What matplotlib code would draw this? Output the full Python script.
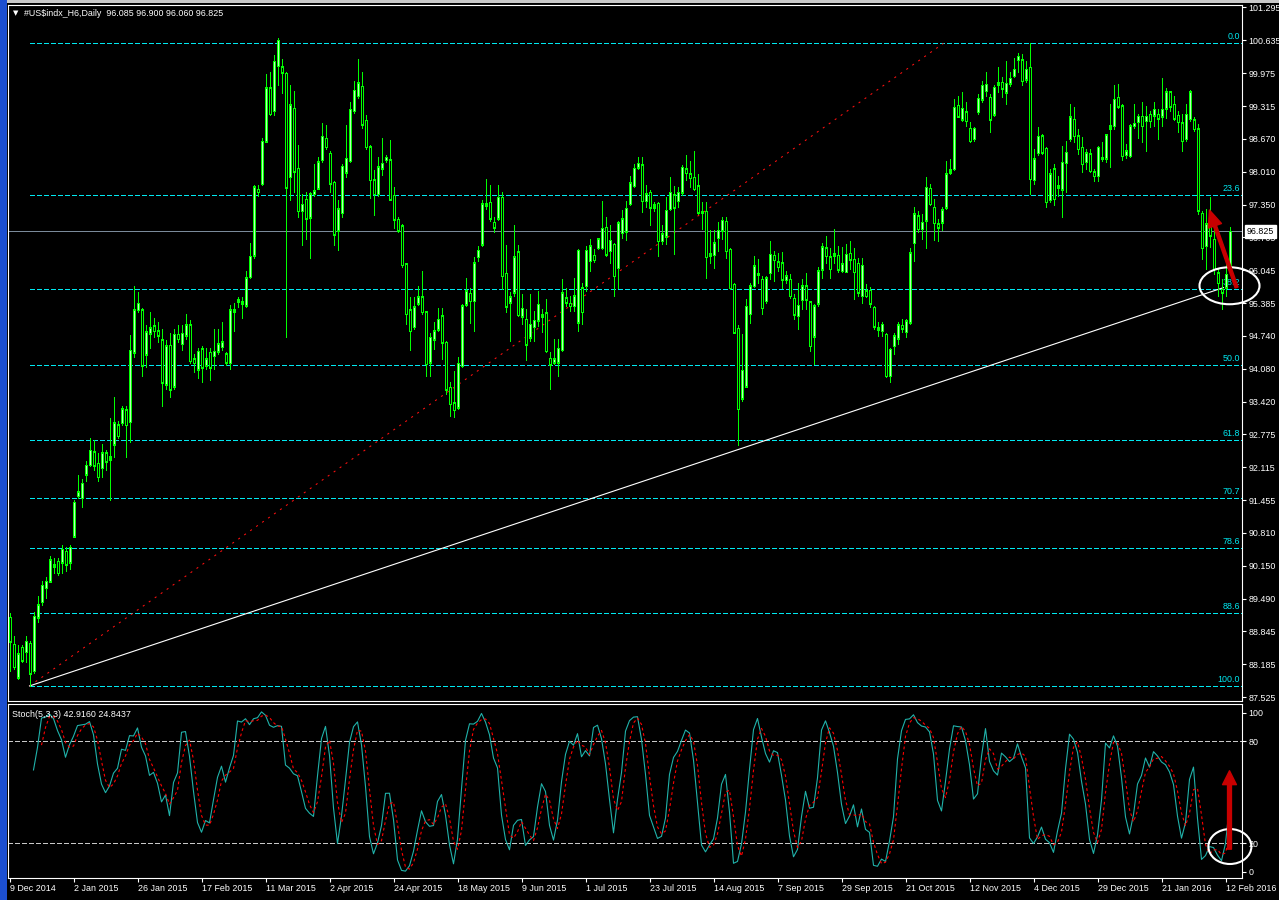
import matplotlib
matplotlib.use("Agg")
import matplotlib.pyplot as plt
import matplotlib.transforms as mtransforms
from matplotlib.patches import Ellipse, FancyArrowPatch, Rectangle
import numpy as np
import pandas as pd

# ---------------- data ----------------
opens = [
    89.12, 88.58, 87.92, 88.52, 88.43, 88.60, 88.05, 89.12, 89.43, 89.71,
    89.84, 90.18, 90.24, 90.22, 90.44, 90.22, 90.74, 91.55, 91.51, 91.98,
    92.16, 92.42, 92.19, 92.10, 92.40, 92.27, 92.57, 92.96, 93.00, 93.26,
    93.02, 94.41, 95.26, 95.26, 94.37, 94.79, 94.94, 94.84, 94.66, 93.77,
    94.55, 93.73, 94.77, 94.58, 94.75, 94.96, 94.28, 94.07, 94.48, 94.15,
    94.41, 94.34, 94.43, 94.52, 94.38, 94.20, 95.26, 95.42, 95.43, 95.35,
    95.92, 96.35, 97.66, 97.77, 98.62, 99.69, 99.23, 100.13, 100.11, 99.98,
    97.91, 99.28, 98.08, 97.23, 97.46, 97.10, 97.57, 97.68, 98.25, 98.68,
    98.38, 97.80, 96.84, 97.19, 98.00, 98.23, 99.23, 99.53, 99.72, 99.04,
    98.51, 97.85, 97.57, 98.08, 98.25, 98.25, 97.54, 97.06, 96.93, 96.18,
    95.26, 94.92, 95.39, 95.52, 95.22, 94.21, 94.67, 94.87, 95.14, 94.61,
    93.71, 93.40, 93.31, 94.14, 95.37, 95.59, 95.44, 96.32, 96.57, 97.37,
    97.40, 97.00, 97.08, 97.50, 95.99, 95.41, 95.61, 96.42, 95.13, 95.07,
    94.71, 94.92, 95.05, 95.17, 95.20, 94.29, 94.21, 94.21, 94.46, 95.50,
    95.39, 95.34, 95.01, 95.70, 95.74, 96.24, 96.35, 96.50, 96.50, 96.90,
    96.44, 96.57, 96.10, 96.79, 96.82, 97.37, 97.73, 98.10, 98.15, 97.43,
    97.60, 97.30, 97.38, 96.64, 96.72, 97.27, 97.55, 97.43, 97.60, 98.07,
    97.97, 97.90, 97.73, 97.20, 97.22, 96.35, 96.36, 96.70, 96.84, 97.02,
    96.47, 95.77, 94.89, 93.49, 93.73, 95.18, 95.74, 95.97, 95.87, 95.44,
    96.00, 96.35, 96.22, 96.20, 95.86, 95.87, 95.49, 95.14, 95.46, 95.74,
    95.42, 94.73, 95.39, 96.07, 96.50, 96.32, 96.34, 96.35, 96.04, 96.02,
    96.39, 96.27, 96.19, 95.54, 95.64, 95.65, 95.31, 94.91, 94.84, 94.77,
    93.94, 94.54, 94.69, 94.95, 94.82, 95.01, 96.60, 97.13, 96.87, 97.04,
    97.68, 97.30, 96.97, 97.00, 97.30, 98.00, 98.07, 99.34, 99.06, 99.21,
    98.88, 98.67, 99.21, 99.46, 99.63, 99.50, 99.16, 99.76, 99.80, 99.60,
    99.78, 99.93, 100.25, 100.25, 99.86, 100.10, 97.85, 98.39, 98.73, 98.48,
    97.45, 98.07, 97.70, 97.66, 98.19, 98.67, 99.06, 98.73, 98.50, 98.21,
    98.37, 98.01, 97.93, 98.30, 98.28, 98.88, 98.93, 99.50, 99.33, 98.35,
    98.33, 98.93, 99.01, 99.12, 99.03, 99.16, 99.14, 99.16, 99.12, 99.28,
    99.61, 99.36, 99.14, 98.99, 98.67, 99.07, 99.05, 98.87, 97.18, 96.54,
    97.04, 96.67, 96.00, 95.67, 95.71, 96.085,
]
highs = [
    89.20, 88.75, 88.56, 88.56, 88.75, 88.64, 89.22, 89.54, 89.84, 89.93,
    90.35, 90.31, 90.31, 90.57, 90.52, 90.57, 91.46, 91.97, 91.89, 92.23,
    92.70, 92.66, 92.40, 92.57, 92.45, 93.09, 93.51, 93.04, 93.34, 93.34,
    94.75, 95.73, 95.61, 95.30, 94.96, 95.22, 95.09, 95.01, 94.88, 94.66,
    94.79, 94.88, 94.96, 94.96, 95.18, 95.05, 94.37, 94.49, 94.54, 94.49,
    94.49, 94.88, 94.88, 95.01, 94.41, 95.35, 95.39, 95.52, 95.52, 96.03,
    96.59, 97.74, 97.74, 98.68, 99.96, 100.00, 100.35, 100.69, 100.26, 100.00,
    99.75, 99.62, 98.55, 97.57, 97.61, 97.61, 98.17, 98.30, 98.98, 98.94,
    98.42, 97.83, 97.44, 98.17, 98.94, 99.40, 99.83, 100.26, 100.00, 99.15,
    98.55, 98.04, 98.30, 98.68, 98.34, 98.64, 97.70, 97.10, 96.97, 96.20,
    95.52, 95.52, 95.73, 96.03, 95.24, 94.80, 95.01, 95.30, 95.30, 94.64,
    93.81, 94.04, 94.31, 95.37, 95.90, 95.70, 96.32, 96.54, 97.44, 97.87,
    97.75, 97.10, 97.75, 97.60, 96.55, 95.61, 96.94, 96.55, 95.57, 95.27,
    95.57, 95.24, 95.64, 95.27, 95.47, 94.42, 94.67, 94.67, 95.87, 95.70,
    95.54, 95.90, 96.47, 95.80, 96.54, 96.67, 96.47, 96.70, 97.43, 97.10,
    96.94, 96.60, 97.02, 97.24, 97.43, 97.93, 98.17, 98.30, 98.30, 97.75,
    97.64, 97.40, 97.40, 96.94, 97.50, 97.90, 97.73, 97.70, 98.14, 98.35,
    98.23, 98.43, 97.97, 97.40, 97.40, 96.84, 96.84, 97.00, 97.10, 97.10,
    96.50, 95.80, 94.96, 94.77, 95.47, 95.80, 96.34, 96.27, 95.94, 95.94,
    96.64, 96.44, 96.40, 96.42, 96.04, 95.97, 95.57, 95.80, 95.87, 96.00,
    95.44, 95.37, 96.12, 96.60, 96.72, 96.50, 96.87, 96.54, 96.51, 96.57,
    96.64, 96.50, 96.30, 96.29, 95.77, 95.72, 95.34, 95.01, 95.01, 94.79,
    94.50, 94.80, 95.01, 95.07, 95.07, 96.50, 97.30, 97.23, 97.17, 97.90,
    97.77, 97.47, 97.07, 97.30, 98.23, 98.27, 99.47, 99.53, 99.60, 99.40,
    99.00, 98.90, 99.57, 99.83, 100.00, 99.57, 99.74, 100.10, 99.90, 100.23,
    100.00, 100.29, 100.39, 100.36, 100.23, 100.59, 98.47, 98.90, 98.77, 98.50,
    98.07, 98.17, 97.93, 98.53, 98.63, 99.37, 99.30, 98.87, 98.70, 98.47,
    98.47, 98.07, 98.53, 98.60, 98.77, 99.36, 99.74, 99.77, 99.36, 98.56,
    98.96, 99.36, 99.17, 99.40, 99.33, 99.23, 99.40, 99.26, 99.89, 99.68,
    99.63, 99.53, 99.23, 99.16, 99.36, 99.64, 99.10, 98.97, 97.23, 97.27,
    97.50, 96.87, 96.10, 95.87, 96.24, 96.90,
]
lows = [
    88.05, 88.09, 87.89, 88.22, 88.22, 87.75, 88.00, 89.03, 89.37, 89.50,
    89.82, 90.01, 89.97, 90.01, 90.05, 90.09, 90.72, 91.51, 91.33, 91.85,
    92.14, 92.06, 91.85, 91.93, 92.06, 91.46, 92.32, 92.70, 92.96, 92.32,
    92.62, 94.32, 95.22, 93.94, 94.11, 94.49, 94.71, 94.62, 93.34, 93.68,
    93.51, 93.68, 94.62, 94.45, 94.67, 94.20, 94.02, 93.90, 93.81, 94.08,
    93.85, 94.07, 94.37, 94.45, 94.15, 94.07, 94.84, 95.31, 95.09, 95.32,
    95.90, 96.29, 97.53, 97.75, 98.60, 99.15, 99.15, 99.75, 99.58, 94.71,
    97.44, 97.61, 97.10, 96.55, 96.67, 96.29, 97.53, 97.66, 98.21, 98.47,
    97.61, 96.55, 96.46, 97.10, 97.91, 98.21, 99.19, 99.49, 98.89, 98.47,
    97.48, 97.14, 97.53, 97.95, 98.21, 97.44, 96.89, 96.80, 96.12, 94.97,
    94.45, 94.88, 95.35, 95.18, 93.94, 93.94, 94.47, 94.84, 94.27, 93.58,
    93.14, 93.11, 93.28, 94.11, 95.34, 95.00, 94.84, 96.24, 96.54, 97.27,
    97.02, 96.80, 97.05, 95.67, 95.21, 94.64, 95.54, 95.14, 94.97, 94.25,
    94.64, 94.63, 94.94, 94.82, 94.42, 93.67, 94.17, 93.94, 94.44, 95.34,
    95.24, 95.24, 94.84, 94.97, 95.64, 96.04, 96.21, 96.47, 96.47, 96.34,
    96.20, 95.54, 95.70, 96.70, 96.66, 97.34, 97.70, 98.07, 97.21, 97.30,
    96.94, 97.23, 96.34, 96.57, 96.57, 97.24, 96.37, 97.30, 97.54, 97.84,
    97.70, 97.64, 97.17, 96.87, 95.90, 96.20, 96.09, 96.44, 96.67, 96.30,
    95.68, 94.79, 92.55, 93.44, 93.71, 95.00, 95.72, 95.80, 95.17, 95.40,
    95.87, 95.84, 96.04, 95.70, 95.80, 95.49, 95.07, 94.87, 95.27, 95.27,
    94.44, 94.18, 95.34, 95.90, 96.20, 95.90, 96.20, 96.01, 96.01, 96.01,
    96.07, 95.47, 95.54, 95.40, 95.51, 95.31, 94.88, 94.73, 94.74, 93.91,
    93.81, 94.37, 94.58, 94.81, 94.71, 94.98, 96.24, 96.80, 96.67, 96.50,
    97.34, 96.66, 96.64, 96.84, 97.27, 97.97, 98.04, 99.10, 99.03, 98.93,
    98.60, 98.63, 99.17, 99.40, 99.53, 98.80, 99.13, 99.60, 99.50, 99.37,
    99.73, 99.90, 100.00, 99.74, 99.80, 97.57, 97.77, 98.34, 98.37, 97.30,
    97.40, 97.34, 97.53, 97.10, 97.60, 98.63, 98.60, 98.37, 98.00, 98.07,
    98.01, 97.83, 97.83, 98.23, 98.21, 98.10, 98.87, 99.28, 98.25, 98.28,
    98.30, 98.88, 98.68, 98.60, 98.43, 98.90, 98.93, 98.67, 98.93, 99.08,
    99.23, 99.05, 98.80, 98.43, 98.63, 99.03, 98.83, 97.17, 96.27, 96.07,
    96.51, 95.97, 95.54, 95.28, 95.54, 96.06,
]
closes = [
    88.64, 88.13, 88.39, 88.26, 88.64, 88.00, 89.14, 89.37, 89.76, 89.84,
    90.27, 90.14, 90.01, 90.48, 90.18, 90.52, 91.42, 91.63, 91.80, 92.15,
    92.45, 92.15, 91.93, 92.40, 92.23, 92.32, 93.00, 92.74, 93.28, 92.96,
    94.45, 95.26, 95.39, 94.15, 94.82, 94.90, 94.84, 94.75, 93.81, 94.54,
    93.67, 94.77, 94.68, 94.79, 94.96, 94.24, 94.20, 94.43, 94.11, 94.28,
    94.11, 94.43, 94.58, 94.62, 94.21, 95.26, 95.22, 95.46, 95.39, 95.90,
    96.33, 97.71, 97.61, 98.62, 99.69, 99.17, 100.22, 100.64, 100.00, 97.70,
    99.35, 98.02, 97.23, 97.36, 97.08, 97.57, 97.63, 98.21, 98.72, 98.51,
    97.78, 96.76, 97.27, 98.12, 98.28, 99.26, 99.64, 99.79, 98.96, 98.51,
    97.85, 97.57, 98.11, 98.18, 98.30, 97.46, 97.06, 96.84, 96.16, 95.18,
    94.84, 95.32, 95.52, 95.22, 94.18, 94.71, 94.84, 95.07, 94.61, 93.67,
    93.38, 93.26, 94.19, 95.34, 95.64, 95.44, 96.20, 96.45, 97.37, 97.34,
    97.08, 96.90, 97.50, 95.94, 95.33, 95.52, 96.32, 95.16, 95.29, 94.57,
    94.97, 95.05, 95.37, 95.13, 94.44, 94.17, 94.28, 94.49, 95.60, 95.41,
    95.34, 95.54, 96.45, 95.22, 96.45, 96.54, 96.26, 96.68, 96.88, 96.37,
    96.65, 95.94, 96.99, 97.07, 97.28, 97.79, 98.08, 98.18, 97.43, 97.57,
    97.30, 97.35, 96.64, 96.77, 97.24, 97.60, 97.30, 97.60, 98.10, 97.99,
    97.89, 97.67, 97.20, 97.22, 96.32, 96.39, 96.60, 96.84, 97.04, 96.44,
    95.70, 94.81, 93.28, 94.05, 95.33, 95.74, 96.14, 95.96, 95.30, 95.90,
    96.37, 96.26, 96.12, 95.87, 95.94, 95.54, 95.17, 95.35, 95.74, 95.47,
    94.54, 95.34, 96.04, 96.52, 96.34, 96.08, 96.38, 96.07, 96.18, 96.37,
    96.27, 96.02, 95.61, 96.15, 95.54, 95.39, 94.93, 94.87, 94.97, 93.94,
    94.47, 94.74, 94.96, 94.89, 95.04, 96.40, 97.17, 96.87, 97.00, 97.70,
    97.37, 96.99, 96.90, 97.25, 97.97, 98.05, 99.30, 99.12, 99.28, 99.03,
    98.63, 98.88, 99.48, 99.74, 99.76, 99.06, 99.70, 99.80, 99.68, 99.78,
    99.88, 100.06, 100.32, 99.83, 100.06, 97.87, 98.27, 98.72, 98.40, 97.41,
    97.97, 97.47, 97.73, 98.20, 98.40, 99.11, 98.73, 98.47, 98.17, 98.39,
    98.03, 97.93, 98.50, 98.28, 98.75, 98.93, 99.46, 99.32, 98.33, 98.43,
    98.93, 98.98, 99.12, 98.93, 99.12, 99.03, 99.26, 99.08, 99.26, 99.61,
    99.32, 99.08, 99.01, 98.63, 99.16, 99.61, 98.87, 97.24, 96.50, 96.97,
    96.74, 96.08, 95.80, 95.61, 95.97, 96.825,
]

date_labels = ["9 Dec 2014", "2 Jan 2015", "26 Jan 2015", "17 Feb 2015", "11 Mar 2015",
               "2 Apr 2015", "24 Apr 2015", "18 May 2015", "9 Jun 2015", "1 Jul 2015",
               "23 Jul 2015", "14 Aug 2015", "7 Sep 2015", "29 Sep 2015", "21 Oct 2015",
               "12 Nov 2015", "4 Dec 2015", "29 Dec 2015", "21 Jan 2016", "12 Feb 2016"]
date_bars = list(range(0, 305, 16))

price_ticks = [101.295, 100.635, 99.975, 99.315, 98.670, 98.010, 97.350, 96.705, 96.045,
               95.385, 94.740, 94.080, 93.420, 92.775, 92.115, 91.455, 90.810, 90.150,
               89.490, 88.845, 88.185, 87.525]

fib_levels = [0.0, 23.6, 38.2, 50.0, 61.8, 70.7, 78.6, 88.6, 100.0]
fib_high = 100.575
fib_low = 87.75
fib_start_bar = 5
fib_line_end = (233.5, 100.575)
trend_line = ([5, 303.5], [87.75, 95.70])
last_price = 96.825
stoch_k, stoch_slow, stoch_d = 5, 3, 3

title_text = "#US$indx_H6,Daily  96.085 96.900 96.060 96.825"
stoch_text = "Stoch(5,3,3) 42.9160 24.8437"

# ---------------- figure ----------------
W, H = 1279, 900
plt.rcParams['font.family'] = ['Liberation Sans', 'DejaVu Sans']
fig = plt.figure(figsize=(W / 100, H / 100), dpi=100, facecolor='black')


def box(x0, y0, x1, y1):
    return [x0 / W, 1 - y1 / H, (x1 - x0) / W, (y1 - y0) / H]


ax = fig.add_axes(box(8, 5, 1242, 701))
ax2 = fig.add_axes(box(8, 704, 1242, 878))
for a in (ax, ax2):
    a.set_facecolor('black')
    for s in a.spines.values():
        s.set_color('white')
        s.set_linewidth(0.8)

LIME = '#00ff00'
CYAN = '#00e8f0'
FS = 6.4

n = len(closes)
xs = np.arange(n)
XMIN, XMAX = -0.375, 308.125
YMIN, YMAX = 87.45, 101.34
ax.set_xlim(XMIN, XMAX)
ax2.set_xlim(XMIN, XMAX)
ax.set_ylim(YMIN, YMAX)
ppx = (YMAX - YMIN) / 696.0

# fibonacci levels (background)
fib_prices = [fib_high - lv / 100.0 * (fib_high - fib_low) for lv in fib_levels]
for p in fib_prices:
    ax.plot([fib_start_bar, XMAX], [p, p], color=CYAN, lw=0.7, ls=(0, (5, 3)),
            antialiased=False, zorder=1)
for lv, p in zip(fib_levels, fib_prices):
    ax.text(307.6, p + 2 * ppx, f"{lv:.1f}", ha='right', va='bottom', color=CYAN,
            fontsize=FS, zorder=1.5)

ax.plot([XMIN, XMAX], [last_price, last_price], color='#7a8a9a', lw=0.7,
        antialiased=False, zorder=1)
ax.plot([fib_start_bar, fib_line_end[0]], [fib_low, fib_line_end[1]], color='#ff1010',
        lw=0.75, ls=(0, (2, 5)), zorder=2)
ax.plot(trend_line[0], trend_line[1], color='white', lw=0.8, zorder=2)

# candles
o = np.array(opens)
h = np.array(highs)
l = np.array(lows)
c = np.array(closes)
lo_b = np.minimum(o, c)
hi_b = np.maximum(np.maximum(o, c), lo_b + ppx)
ax.vlines(xs, l, h, color=LIME, lw=0.7, antialiased=False, zorder=3)
ax.vlines(xs, lo_b - 0.5 * ppx, hi_b + 0.5 * ppx, color=LIME, lw=2.0,
          antialiased=False, zorder=4)
tall = (hi_b - lo_b) > 2.5 * ppx
bull = c > o
m1 = tall & bull
m2 = tall & ~bull
ax.vlines(xs[m1], lo_b[m1] + ppx, hi_b[m1] - ppx, color='#b8ffb8', lw=0.5,
          antialiased=False, zorder=5)
ax.vlines(xs[m2], lo_b[m2] + ppx, hi_b[m2] - ppx, color='black', lw=0.5,
          antialiased=False, zorder=5)

# price axis
ax.set_xticks([])
ax.yaxis.tick_right()
ax.set_yticks(price_ticks)
ax.set_yticklabels([f"{v:.3f}" for v in price_ticks])
ax.tick_params(axis='y', colors='white', labelsize=FS, length=3, width=0.8, pad=1.5)
trans = mtransforms.blended_transform_factory(ax.transAxes, ax.transData)
ax.text(1.0 + 5 / 1234, last_price, f"{last_price:.3f}", transform=trans, ha='left',
        va='center', color='black', fontsize=FS, zorder=10, clip_on=False,
        bbox=dict(boxstyle='square,pad=0.2', fc='white', ec='white'))

# annotations on main chart
ax.add_patch(Ellipse((305, 95.737), 15, 0.738, fill=False, ec='white', lw=1.5,
                     zorder=12, clip_on=False))
ax.add_patch(FancyArrowPatch((307, 95.65), (299.75, 97.30),
                             arrowstyle='simple,head_length=12,head_width=10,tail_width=2.2',
                             mutation_scale=1, color='#c80000', zorder=13, clip_on=False))

# stochastic
hh = pd.Series(highs).rolling(stoch_k).max()
ll = pd.Series(lows).rolling(stoch_k).min()
cs = pd.Series(closes)
K = 100 * (cs - ll).rolling(stoch_slow).sum() / (hh - ll).rolling(stoch_slow).sum()
D = K.rolling(stoch_d).mean()
ax2.set_ylim(-0.45, 102.1)
for lvl in (20, 80):
    ax2.plot([XMIN, XMAX], [lvl, lvl], color='#c8c8c8', lw=0.7, ls=(0, (5, 3)),
             antialiased=False, zorder=1)
ax2.plot(xs, K, color='#20b2aa', lw=0.8, zorder=3)
ax2.plot(xs, D, color='#ff0000', lw=0.8, ls=(0, (2.5, 2.5)), zorder=3)

ax2.yaxis.tick_right()
ax2.set_yticks([3.3, 20, 80, 97])
ax2.set_yticklabels(['0', '20', '80', '100'])
ax2.tick_params(axis='y', colors='white', labelsize=FS, length=3, width=0.8, pad=1.5)
ax2.set_xticks(date_bars)
ax2.set_xticklabels(date_labels)
ax2.tick_params(axis='x', colors='white', labelsize=FS, length=3, width=0.8, pad=1)
for t in ax2.get_xticklabels():
    t.set_ha('left')

ax2.add_patch(Ellipse((305.1, 18.1), 10.75, 20.6, fill=False, ec='white', lw=1.5,
                      zorder=12, clip_on=False))
ax2.add_patch(FancyArrowPatch((305, 14.9), (305, 64.4),
                              arrowstyle='simple,head_length=10,head_width=10,tail_width=2.8',
                              mutation_scale=1, color='#c80000', zorder=13, clip_on=False))

# texts
fig.text(13 / W, 1 - 13 / H, '\u25bc', color='white', fontsize=5, va='center',
         family=['DejaVu Sans'])
fig.text(24 / W, 1 - 13 / H, title_text, color='white', fontsize=FS, va='center',
         parse_math=False)
fig.text(12 / W, 1 - 714.5 / H, stoch_text, color='white', fontsize=FS, va='center')

# window frame
fig.add_artist(Rectangle((0, 0), 7 / W, 1, transform=fig.transFigure, fc='#1c4fd0',
                         ec='none', zorder=20))
fig.add_artist(Rectangle((7 / W, 1 - 3 / H), 1, 3 / H, transform=fig.transFigure,
                         fc='#c8c8c8', ec='none', zorder=20))

fig.savefig('out.png', dpi=100, facecolor='black')
